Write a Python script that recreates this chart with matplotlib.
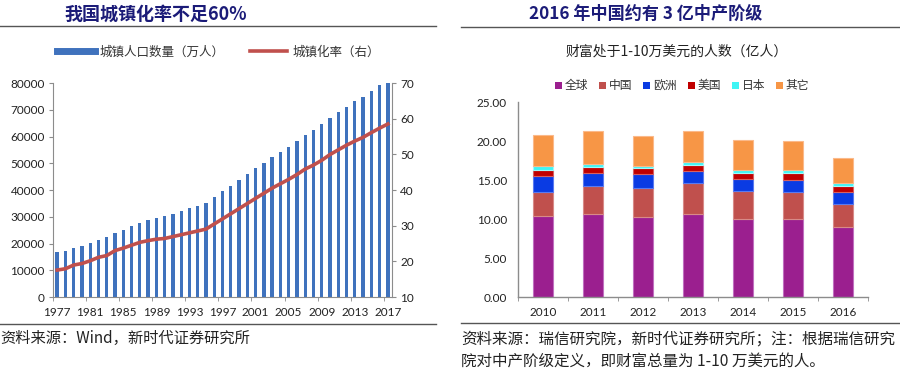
import numpy as np
import matplotlib.pyplot as plt
from matplotlib.lines import Line2D
from matplotlib.patches import Patch

plt.rcParams['font.family'] = ['Noto Sans CJK SC', 'DejaVu Sans']

# left panel: urban population (10k persons) and urbanisation rate (%)
years = list(range(1977, 2018))
urban_pop = [16669, 17245, 18495, 19140, 20171, 21480, 22274, 24017, 25094, 26366,
             27674, 28661, 29540, 30195, 31203, 32175, 33173, 34169, 35174, 37304,
             39449, 41608, 43748, 45906, 48064, 50212, 52376, 54283, 56212, 58288,
             60633, 62403, 64512, 66978, 69079, 71182, 73111, 74916, 77116, 79298,
             81347]
urban_rate = [17.55, 17.92, 18.96, 19.39, 20.16, 21.13, 21.62, 23.01, 23.71, 24.52,
              25.32, 25.81, 26.21, 26.41, 26.94, 27.46, 27.99, 28.51, 29.04, 30.48,
              31.91, 33.35, 34.78, 36.22, 37.66, 39.09, 40.53, 41.76, 42.99, 44.34,
              45.89, 46.99, 48.34, 49.95, 51.27, 52.57, 53.73, 54.77, 56.10, 57.35,
              58.52]

# right panel: people with wealth 1-10万美元 (亿人)
wealth_years = ['2010', '2011', '2012', '2013', '2014', '2015', '2016']
series_names = ['全球', '中国', '欧洲', '美国', '日本', '其它']
global_vals = [10.35, 10.64, 10.26, 10.64, 10.05, 10.00, 8.94]
china_vals = [3.15, 3.59, 3.71, 3.94, 3.59, 3.46, 3.03]
europe_vals = [2.06, 1.67, 1.76, 1.52, 1.45, 1.59, 1.53]
us_vals = [0.77, 0.77, 0.77, 0.80, 0.81, 0.81, 0.69]
japan_vals = [0.47, 0.43, 0.35, 0.40, 0.40, 0.38, 0.39]
other_vals = [4.00, 4.20, 3.80, 4.03, 3.88, 3.81, 3.29]

title_color = '#1b1b78'
axis_gray = '#8c8c8c'
tick_font = 'Lato'

fig = plt.figure(figsize=(9, 3.77), dpi=100)

# ---------------- left chart ----------------
ax1 = fig.add_axes([0.0589, 0.2122, 0.3767, 0.5676])
x = np.arange(len(years))
ax1.bar(x, urban_pop, width=0.4, color='#3f72bd', zorder=2)
ax1.set_xlim(-0.5, len(years) - 0.5)
ax1.set_ylim(0, 80000)
ax1.set_yticks(np.arange(0, 80001, 10000))
ax1.set_xticks(x[::4])
ax1.set_xticklabels([str(y) for y in years[::4]])
ax1.set_xticks(np.arange(-0.5, len(years) - 1, 4), minor=True)
ax1.tick_params(axis='x', which='major', length=0, pad=7)
ax1.tick_params(axis='x', which='minor', length=3, direction='out', color=axis_gray)
ax1.tick_params(axis='y', length=3, direction='out', color=axis_gray, pad=3)
ax1.spines['top'].set_visible(False)
ax1.spines['right'].set_visible(False)
for s in ['left', 'bottom']:
    ax1.spines[s].set_color(axis_gray)

ax2 = ax1.twinx()
line_rate, = ax2.plot(x, urban_rate, color='#c0504d', lw=2.6, zorder=3)
ax2.set_ylim(10, 70)
ax2.set_yticks(np.arange(10, 71, 10))
ax2.tick_params(axis='y', length=3, direction='out', color=axis_gray, pad=3)
ax2.spines['top'].set_visible(False)
ax2.spines['left'].set_visible(False)
ax2.spines['bottom'].set_visible(False)
ax2.spines['right'].set_color(axis_gray)

for lab in ax1.get_xticklabels() + ax1.get_yticklabels() + ax2.get_yticklabels():
    lab.set_fontfamily(tick_font)
    lab.set_fontsize(8.5)
    lab.set_color('#222222')

handles = [Line2D([], [], color='#3f72bd', lw=5),
           Line2D([], [], color='#c0504d', lw=2.6)]
fig.legend(handles, ['城镇人口数量（万人）', '城镇化率（右）'], loc='center',
           bbox_to_anchor=(0.243, 0.862), ncol=2, frameon=False, fontsize=9,
           handlelength=3.0, handletextpad=0.4, columnspacing=2.0,
           labelcolor='#333333')

# ---------------- right chart ----------------
ax3 = fig.add_axes([0.5756, 0.2122, 0.3889, 0.5172])
xr = np.arange(len(wealth_years))
colors = ['#9b1f8f', '#c0504d', '#0a3be3', '#c00000', '#3ff5f5', '#f79646']
edges = ['#c070c0', '#d88a88', '#5a7af0', '#d86060', '#9ffcfc', '#fbb98a']
bottom = np.zeros(len(wealth_years))
for vals, c, e in zip([global_vals, china_vals, europe_vals, us_vals, japan_vals, other_vals],
                      colors, edges):
    ax3.bar(xr, vals, width=0.4, bottom=bottom, color=c, edgecolor=e, linewidth=0.8, zorder=2)
    bottom += np.array(vals)

ax3.set_xlim(-0.5, len(wealth_years) - 0.5)
ax3.set_ylim(0, 25)
ax3.set_yticks(np.arange(0, 26, 5))
ax3.set_yticklabels(['%.2f' % v for v in np.arange(0, 26, 5)])
ax3.set_xticks(xr)
ax3.set_xticklabels(wealth_years)
ax3.set_xticks(np.arange(-0.5, len(wealth_years), 1), minor=True)
ax3.tick_params(axis='x', which='major', length=0, pad=7)
ax3.tick_params(axis='x', which='minor', length=3, direction='out', color=axis_gray)
ax3.tick_params(axis='y', length=0, pad=8)
ax3.spines['top'].set_visible(False)
ax3.spines['right'].set_visible(False)
for s in ['left', 'bottom']:
    ax3.spines[s].set_color(axis_gray)
    ax3.spines[s].set_linewidth(1.0)
for lab in ax3.get_xticklabels() + ax3.get_yticklabels():
    lab.set_fontfamily(tick_font)
    lab.set_fontsize(8.5)
    lab.set_color('#222222')

fig.text(0.752, 0.862, '财富处于1-10万美元的人数（亿人）', ha='center', va='center',
         fontsize=10, color='#222222')
leg_handles = [Patch(facecolor=c) for c in colors]
fig.legend(leg_handles, series_names, loc='center', bbox_to_anchor=(0.758, 0.772),
           ncol=6, frameon=False, fontsize=8.5, handlelength=0.6, handleheight=0.6,
           handletextpad=0.25, columnspacing=0.9, labelcolor='#333333')

# ---------------- titles, rules and source notes ----------------
fig.text(0.173, 0.962, '我国城镇化率不足60%', ha='center', va='center',
         fontsize=13, fontweight='bold', color=title_color)
fig.text(0.717, 0.962, '2016 年中国约有 3 亿中产阶级', ha='center', va='center',
         fontsize=12.3, fontweight='bold', color=title_color)

for (x0, x1, yy) in [(0.0, 0.484, 0.931), (0.512, 1.0, 0.928),
                     (0.0, 0.484, 0.1406), (0.512, 1.0, 0.1432)]:
    fig.add_artist(Line2D([x0, x1], [yy, yy], color='#555555', lw=1.0,
                          transform=fig.transFigure))

fig.text(0.0, 0.103, '资料来源：Wind，新时代证券研究所', ha='left', va='center',
         fontsize=11, color='#222222')
fig.text(0.512, 0.101, '资料来源：瑞信研究院，新时代证券研究所；注：根据瑞信研究',
         ha='left', va='center', fontsize=11.2, color='#222222')
fig.text(0.512, 0.0424, '院对中产阶级定义，即财富总量为 1-10 万美元的人。',
         ha='left', va='center', fontsize=11.2, color='#222222')

fig.savefig('out.png', dpi=100)
